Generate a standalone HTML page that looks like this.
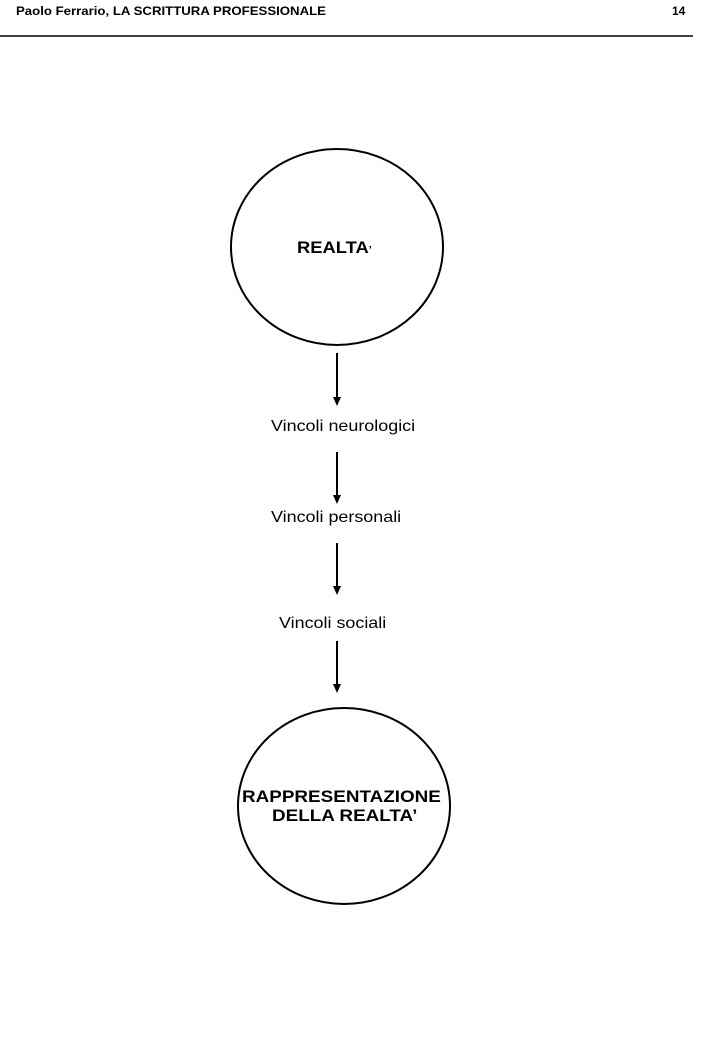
<!DOCTYPE html>
<html><head><style>
body{margin:0;width:720px;height:1040px;background:#fff;position:relative;font-family:"Liberation Sans",sans-serif;overflow:hidden}
.t{position:absolute;white-space:nowrap;color:#000;transform-origin:left}
</style></head><body>
<div class="t" style="left:16px;top:4px;font-size:12px;font-weight:bold;transform:scaleX(1.1)">Paolo Ferrario, LA SCRITTURA PROFESSIONALE</div>
<div class="t" style="left:672px;top:4px;font-size:12px;font-weight:bold">14</div>
<svg width="720" height="1040" style="position:absolute;left:0;top:0">
<line x1="0" y1="36" x2="693" y2="36" stroke="#000" stroke-width="1.5"/>
<ellipse cx="337" cy="247" rx="106" ry="98" fill="none" stroke="#000" stroke-width="2"/>
<ellipse cx="344" cy="806" rx="106" ry="98" fill="none" stroke="#000" stroke-width="2"/>
<g stroke="#000" stroke-width="2">
<line x1="337" y1="353" x2="337" y2="398"/>
<line x1="337" y1="452" x2="337" y2="496"/>
<line x1="337" y1="543" x2="337" y2="587"/>
<line x1="337" y1="641" x2="337" y2="685"/>
</g>
<g fill="#000">
<polygon points="333,397 341,397 337,406"/>
<polygon points="333,495 341,495 337,504"/>
<polygon points="333,586 341,586 337,595"/>
<polygon points="333,684 341,684 337,693"/>
</g>
</svg>
<div class="t" style="left:297px;top:238px;font-size:17px;font-weight:bold;transform:scaleX(1.08)">REALTA<span style="font-size:10px">’</span></div>
<div class="t" style="left:271px;top:418px;font-size:16px;transform:scaleX(1.12)">Vincoli neurologici</div>
<div class="t" style="left:271px;top:509px;font-size:16px;transform:scaleX(1.12)">Vincoli personali</div>
<div class="t" style="left:279px;top:615px;font-size:16px;transform:scaleX(1.12)">Vincoli sociali</div>
<div class="t" style="left:242px;top:787px;font-size:17px;font-weight:bold;transform:scaleX(1.11)">RAPPRESENTAZIONE</div>
<div class="t" style="left:272px;top:806px;font-size:17px;font-weight:bold;transform:scaleX(1.11)">DELLA REALTA’</div>
</body></html>
